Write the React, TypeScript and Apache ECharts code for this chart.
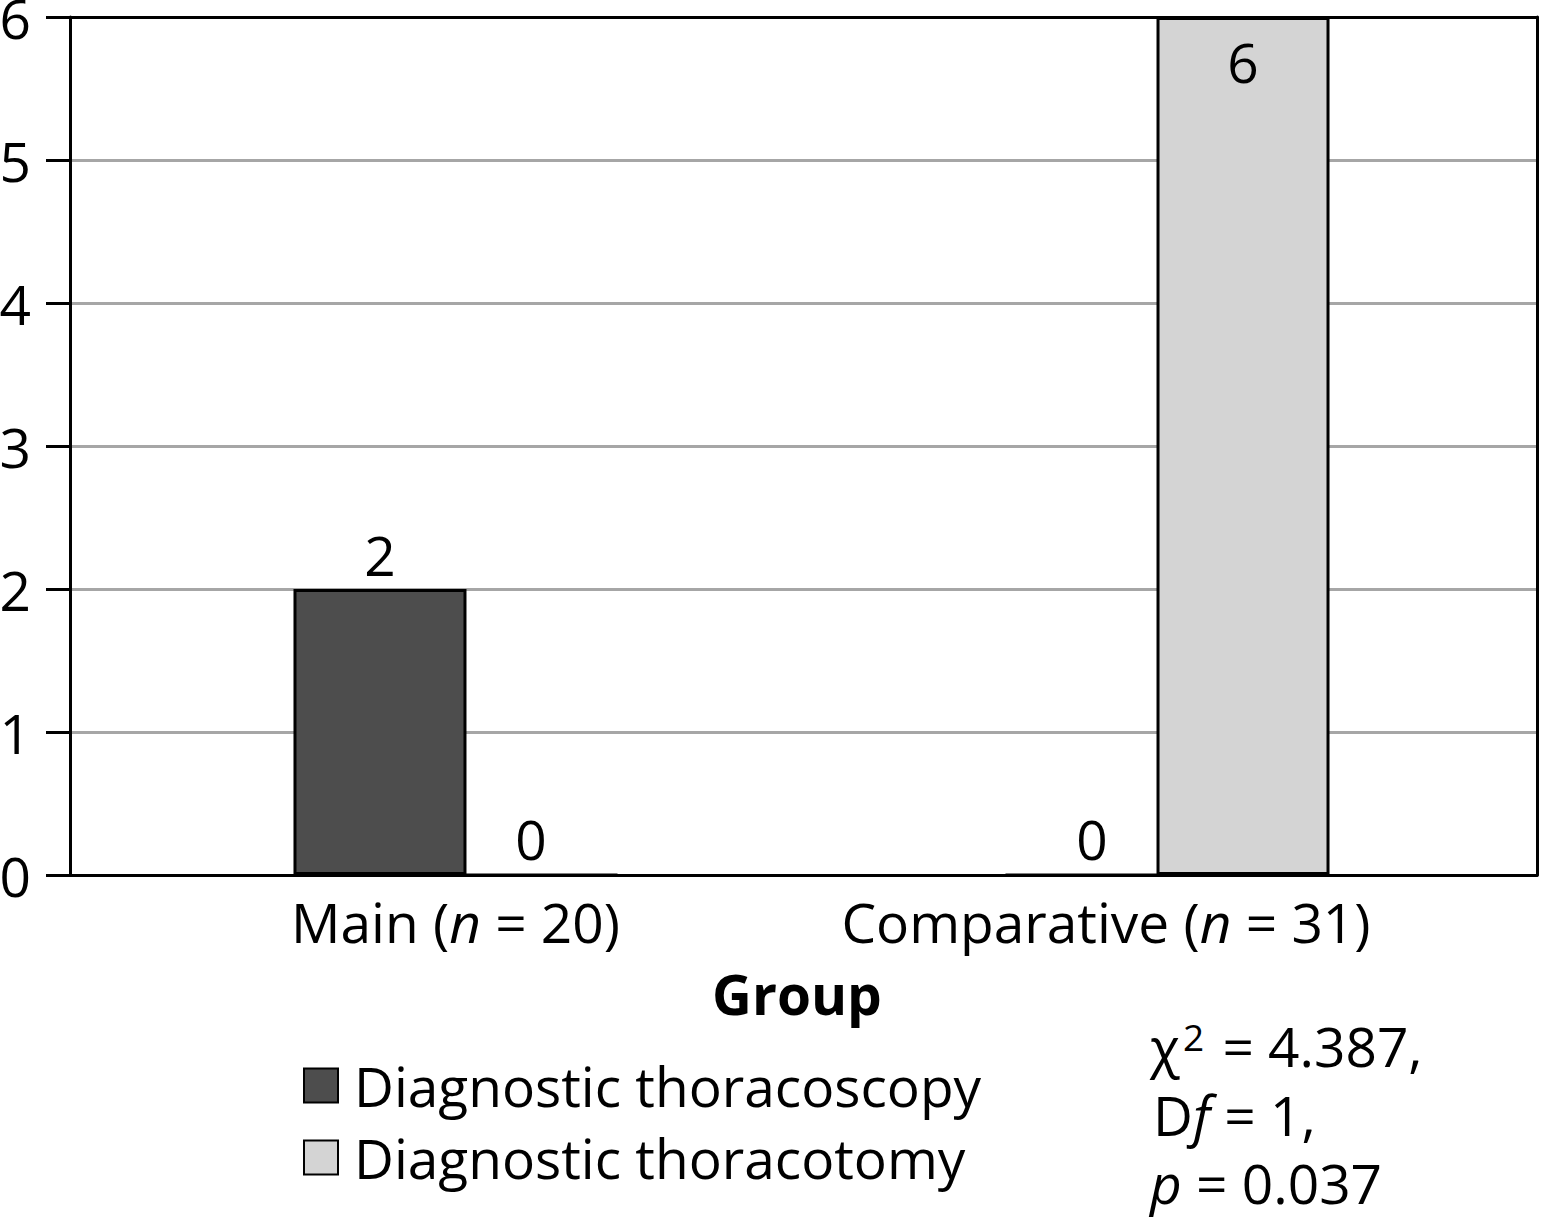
import React, { useEffect, useRef } from "react";
import * as echarts from "echarts";

const categories = ["Main (n = 20)", "Comparative (n = 31)"];
const seriesNames = ["Diagnostic thoracoscopy", "Diagnostic thoracotomy"];
const thoracoscopy = [2, 0];
const thoracotomy = [0, 6];
const yTicks = [0, 1, 2, 3, 4, 5, 6];
const statLines = ["χ2 = 4.387,", "Df = 1,", "p = 0.037"];

const FONT = "'Open Sans', 'Noto Sans', sans-serif";
const FS = 55;

export default function App() {
  const ref = useRef<HTMLDivElement>(null);
  useEffect(() => {
    if (!ref.current) return;
    const chart = echarts.init(ref.current, undefined, { renderer: "svg" });
    const yMin = yTicks[0];
    const yMax = yTicks[yTicks.length - 1];

    const labelFor = (v: number) =>
      v === yMax
        ? { value: v, label: { position: "insideTop", distance: 14 } }
        : v;

    const txt = (extra: any = {}) => ({
      fontFamily: FONT,
      fontSize: FS,
      color: "#000",
      lineHeight: 60,
      ...extra,
    });

    const option: any = {
      animation: false,
      backgroundColor: "#ffffff",
      textStyle: { fontFamily: FONT },
      grid: [
        { left: 70, right: 13, top: 17, bottom: 343, containLabel: false, outerBoundsMode: "none" },
        { left: 99.5, right: 26.5, top: 17, bottom: 343, containLabel: false, outerBoundsMode: "none" },
      ],
      xAxis: [
        {
          gridIndex: 0,
          type: "value",
          min: 0,
          max: 1,
          axisLine: { show: true, lineStyle: { color: "#000", width: 3 } },
          axisTick: { show: false },
          axisLabel: { show: false },
          splitLine: { show: false },
          name: "Group",
          nameLocation: "middle",
          nameGap: 88,
          nameTextStyle: txt({ fontWeight: "bold", padding: [0, 13, 0, 0] }),
        },
        {
          gridIndex: 0,
          type: "value",
          position: "top",
          min: 0,
          max: 1,
          z: 3,
          axisLine: { show: true, onZero: false, lineStyle: { color: "#000", width: 3 } },
          axisTick: { show: false },
          axisLabel: { show: false },
          splitLine: { show: false },
        },
        {
          gridIndex: 1,
          type: "category",
          data: categories,
          axisLine: { show: false },
          axisTick: { show: false },
          axisLabel: {
            interval: 0,
            hideOverlap: false,
            margin: 16,
            ...txt(),
            formatter: (val: string, idx: number) => {
              const m = val.match(/^(.*)\((n)(.*)\)$/);
              const tail = idx === 1 ? "{gap| }" : "";
              if (!m) return `{a|${val}}${tail}`;
              return `{a|${m[1]}(}{ai|${m[2]}}{a|${m[3]})}${tail}`;
            },
            rich: {
              a: txt(),
              ai: txt({ fontStyle: "italic" }),
              gap: txt({ width: 123 }),
            },
          },
          splitLine: { show: false },
        },
      ],
      yAxis: [
        {
          gridIndex: 0,
          type: "value",
          min: yMin,
          max: yMax,
          interval: 1,
          z: 0,
          axisLine: { show: true, lineStyle: { color: "#000", width: 3 } },
          axisTick: { show: true, inside: false, length: 24, lineStyle: { color: "#000", width: 3 } },
          axisLabel: {
            margin: 39,
            ...txt({ lineHeight: 34 }),
          },
          splitLine: { show: true, lineStyle: { color: "#a6a6a6", width: 3 } },
        },
        {
          gridIndex: 0,
          type: "value",
          position: "right",
          min: yMin,
          max: yMax,
          interval: 1,
          z: 3,
          axisLine: { show: true, onZero: false, lineStyle: { color: "#000", width: 3 } },
          axisTick: { show: false },
          axisLabel: { show: false },
          splitLine: { show: false },
        },
        {
          gridIndex: 1,
          type: "value",
          min: yMin,
          max: yMax,
          interval: 1,
          show: false,
        },
      ],
      legend: {
        orient: "vertical",
        left: 298,
        top: 1053,
        itemWidth: 34,
        itemHeight: 34,
        itemGap: 17,
        icon: "rect",
        data: seriesNames,
        itemStyle: { borderColor: "#000", borderWidth: 2 },
        textStyle: txt({ lineHeight: 54, padding: [0, 0, 0, 11] }),
      },
      series: [
        {
          name: seriesNames[0],
          type: "bar",
          xAxisIndex: 2,
          yAxisIndex: 2,
          barWidth: 173,
          barGap: "-12.7%",
          data: thoracoscopy.map(labelFor),
          itemStyle: { color: "#4d4d4d", borderColor: "#000", borderWidth: 3 },
          label: { show: true, position: "top", distance: 5, ...txt() },
        },
        {
          name: seriesNames[1],
          type: "bar",
          xAxisIndex: 2,
          yAxisIndex: 2,
          barWidth: 173,
          barGap: "-12.7%",
          data: thoracotomy.map(labelFor),
          itemStyle: { color: "#d4d4d4", borderColor: "#000", borderWidth: 3 },
          label: { show: true, position: "top", distance: 5, ...txt() },
        },
      ],
      graphic: [
        {
          type: "text",
          x: 1150,
          y: 1045,
          style: {
            text: `{c|χ}{s|2}{t|${statLines[0].slice(2)}}`,
            verticalAlign: "middle",
            rich: {
              c: { fontFamily: FONT, fontSize: FS, fill: "#000", lineHeight: 54 },
              s: { fontFamily: FONT, fontSize: 37, fill: "#000", lineHeight: 54, verticalAlign: "top", padding: [0, 4, 0, 3] },
              t: { fontFamily: FONT, fontSize: FS, fill: "#000", lineHeight: 54 },
            },
          },
        },
        {
          type: "text",
          x: 1153,
          y: 1114,
          style: {
            text: `{n|D}{i|f}{n|${statLines[1].slice(2)}}`,
            verticalAlign: "middle",
            rich: {
              n: { fontFamily: FONT, fontSize: FS, fill: "#000", lineHeight: 54 },
              i: { fontFamily: FONT, fontSize: FS, fill: "#000", lineHeight: 54, fontStyle: "italic" },
            },
          },
        },
        {
          type: "text",
          x: 1150,
          y: 1182,
          style: {
            text: `{i|p}{n|${statLines[2].slice(1)}}`,
            verticalAlign: "middle",
            rich: {
              n: { fontFamily: FONT, fontSize: FS, fill: "#000", lineHeight: 54 },
              i: { fontFamily: FONT, fontSize: FS, fill: "#000", lineHeight: 54, fontStyle: "italic" },
            },
          },
        },
      ],
    };
    chart.setOption(option);
    return () => chart.dispose();
  }, []);

  return (
    <div
      ref={ref}
      style={{ position: "absolute", left: 0, top: 0, width: 1550, height: 1218 }}
    />
  );
}
